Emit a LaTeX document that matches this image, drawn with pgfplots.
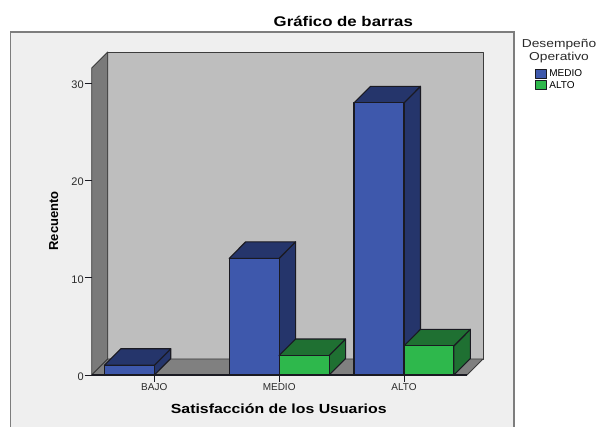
\documentclass[border=0pt]{standalone}
\usepackage{fontspec}
\setmainfont{Liberation Sans}
\newfontfamily\wide[FakeStretch=1.2]{Liberation Sans}
\usepackage{pgfplots}
\pgfplotsset{compat=1.18}
\definecolor{bluef}{HTML}{3E58AC}
\definecolor{blued}{HTML}{25356B}
\definecolor{greenf}{HTML}{2EB84C}
\definecolor{greend}{HTML}{1F7032}
\definecolor{edge}{HTML}{1A1A22}
\definecolor{wall}{HTML}{3C3C3C}
\definecolor{txt}{HTML}{2A2A2A}
\begin{document}
\begin{tikzpicture}[x=1pt,y=1pt]
\useasboundingbox (0,0) rectangle (597,427);
% panel
\fill[fill={rgb,255:red,239;green,239;blue,239}] (10.7,0) rectangle (514,395);
\draw[line width=1.3pt,color={rgb,255:red,125;green,125;blue,125}] (10.7,0) -- (10.7,395) -- (514,395) -- (514,0);
% walls
\draw[wall,line width=0.9pt,fill={rgb,255:red,190;green,190;blue,190},line join=round] (107.7,68) rectangle (483,375);
\draw[wall,line width=0.9pt,fill={rgb,255:red,122;green,122;blue,122},line join=round] (91.7,52) -- (107.7,68) -- (107.7,375) -- (91.7,359) -- cycle;
\draw[wall,line width=0.9pt,fill={rgb,255:red,128;green,128;blue,128},line join=round] (91.7,52) -- (467,52) -- (483,68) -- (107.7,68) -- cycle;
\begin{axis}[
  at={(91.7pt,52pt)}, anchor=south west, scale only axis,
  width=391.3pt, height=323pt,
  xmin=-0.5014, xmax=2.633, ymin=0, ymax=33.23,
  axis line style={draw=none},
  xtick={0,1,2}, xticklabels={BAJO,MEDIO,ALTO},
  ytick={0,10,20,30},
  xtick pos=bottom, ytick pos=left, tick align=outside,
  major tick length=7pt,
  tick style={color=edge,line width=0.8pt},
  tick label style={font=\fontsize{10}{12}\selectfont,text=txt},
  /pgf/number format/assume math mode=true,
  yticklabel style={font=\fontsize{11}{12}\selectfont,text=txt,xshift=2.5pt,yshift=-1.5pt},
  xticklabel style={yshift=2.5pt},
  clip=false,
  title={\wide\bfseries Gráfico de barras},
  title style={font=\fontsize{14}{16}\selectfont,at={(rel axis cs:0.643,1.096)},anchor=center,yshift=-6pt},
  xlabel={\wide\bfseries Satisfacción de los Usuarios},
  xlabel style={font=\fontsize{13.2}{15}\selectfont,at={(rel axis cs:0.478,-0.104)},anchor=center},
  ylabel={\bfseries Recuento},
  ylabel style={font=\fontsize{13}{15}\selectfont,at={(rel axis cs:-0.097,0.477)},anchor=center},
  legend style={draw=none,fill=none,at={(rel axis cs:1.1335,0.951)},anchor=north west,
    font=\fontsize{10}{11}\selectfont,inner sep=0pt,outer sep=0pt,
    legend cell align=left,row sep=-1.2pt,
    /tikz/every even column/.append style={column sep=3pt}},
  legend image code/.code={\draw[#1] (0pt,-4.5pt) rectangle (11pt,4.5pt);},
  every axis plot/.append style={draw=edge,line width=1.1pt,line join=round},
]
% blue series: side and top faces
\addplot[fill=blued,forget plot] coordinates {(0,0) (0.132,1.7) (0.132,2.7) (0,1)} -- cycle;
\addplot[fill=blued,forget plot] coordinates {(-0.4,1) (0,1) (0.132,2.7) (-0.268,2.7)} -- cycle;
\addplot[fill=blued,forget plot] coordinates {(1,0) (1.132,1.7) (1.132,13.7) (1,12)} -- cycle;
\addplot[fill=blued,forget plot] coordinates {(0.6,12) (1,12) (1.132,13.7) (0.732,13.7)} -- cycle;
\addplot[fill=blued,forget plot] coordinates {(2,0) (2.132,1.7) (2.132,29.7) (2,28)} -- cycle;
\addplot[fill=blued,forget plot] coordinates {(1.6,28) (2,28) (2.132,29.7) (1.732,29.7)} -- cycle;
% blue fronts
\addplot[ybar,bar width=0.4,bar shift=-0.2,fill=bluef] coordinates {(0,1) (1,12) (2,28)};
\addlegendentry{MEDIO}
% green series: side and top faces
\addplot[fill=greend,forget plot] coordinates {(1.4,0) (1.532,1.7) (1.532,3.7) (1.4,2)} -- cycle;
\addplot[fill=greend,forget plot] coordinates {(1,2) (1.4,2) (1.532,3.7) (1.132,3.7)} -- cycle;
\addplot[fill=greend,forget plot] coordinates {(2.4,0) (2.532,1.7) (2.532,4.7) (2.4,3)} -- cycle;
\addplot[fill=greend,forget plot] coordinates {(2,3) (2.4,3) (2.532,4.7) (2.132,4.7)} -- cycle;
% green fronts
\addplot[ybar,bar width=0.4,bar shift=0.2,fill=greenf] coordinates {(1,2) (2,3)};
\addlegendentry{ALTO}
\end{axis}
\draw[edge,line width=1.1pt] (91.7,52) -- (467,52);
\node[font=\wide\fontsize{11.5}{13}\selectfont,text=txt,anchor=center] at (559,382) {Desempeño};
\node[font=\wide\fontsize{11.5}{13}\selectfont,text=txt,anchor=center] at (559,369.5) {Operativo};
\end{tikzpicture}
\end{document}
